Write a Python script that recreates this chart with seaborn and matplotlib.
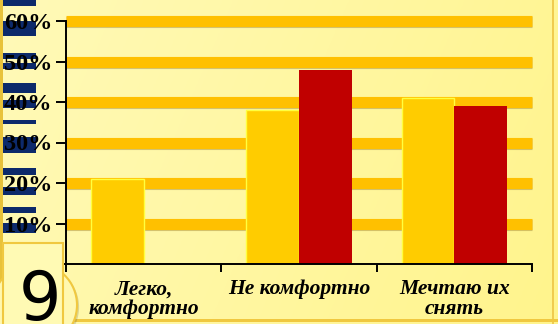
import numpy as np
import pandas as pd
import matplotlib
matplotlib.use("Agg")
import matplotlib.pyplot as plt
import matplotlib.patheffects as pe
from matplotlib.patches import Rectangle, Ellipse
import seaborn as sns

# Survey answers and the share of respondents per answer (two series)
categories = ["Легко,\nкомфортно", "Не комфортно", "Мечтаю их\nснять"]
series_names = ["Серия 1", "Серия 2"]
series_1 = [21, 38, 41]
series_2 = [0, 48, 39]
y_ticks = [0, 10, 20, 30, 40, 50, 60]
y_tick_labels = ["" if v == 0 else f"{v}%" for v in y_ticks]
slide_number = "9"

df = pd.DataFrame({
    "answer": categories * 2,
    "series": [series_names[0]] * 3 + [series_names[1]] * 3,
    "share": series_1 + series_2,
})

sns.set_theme(style="white")
plt.rcParams["font.family"] = ["Liberation Serif", "DejaVu Serif"]
plt.rcParams["text.color"] = "black"
plt.rcParams["xtick.color"] = "black"
plt.rcParams["ytick.color"] = "black"

W, H, DPI = 558, 324, 100
fig = plt.figure(figsize=(W / DPI, H / DPI), dpi=DPI)

# soft yellow slide background
bg = fig.add_axes([0, 0, 1, 1], zorder=-3)
gx = np.linspace(0, 1, 200)
gy = np.linspace(0, 1, 120)
GX, GY = np.meshgrid(gx, gy)
t = np.clip(0.8 * GX + 0.2 * GY, 0, 1)
c0 = np.array([255, 250, 184]) / 255
c1 = np.array([255, 244, 140]) / 255
img = c0[None, None, :] * (1 - t[..., None]) + c1[None, None, :] * t[..., None]
bg.imshow(img, extent=[0, 1, 0, 1], aspect="auto", origin="upper")
bg.set_axis_off()

def px_rect(x0, y0, x1, y1, **kw):
    """Rectangle given in pixel coordinates measured from the top-left."""
    r = Rectangle((x0 / W, 1 - y1 / H), (x1 - x0) / W, (y1 - y0) / H,
                  transform=fig.transFigure, **kw)
    fig.patches.append(r)
    return r

# navy stripes on the left edge of the slide
for y0, y1 in [(0, 6), (21, 36), (53, 59), (63, 69), (83, 93), (100, 108),
               (120, 124), (137, 153), (168, 175), (187, 195), (207, 213),
               (223, 233)]:
    px_rect(0, y0, 36, y1, facecolor="#0d2a6b", edgecolor="none", zorder=-2)
# gold frame lines
px_rect(0, 0, 3, H, facecolor="#e8c23a", edgecolor="none", zorder=-2)
px_rect(552, 0, 554, H, facecolor="#f0cc50", edgecolor="none", zorder=-2)
px_rect(60, 319, W, 322, facecolor="#f0c840", edgecolor="none", zorder=-2)

# chart
ax = fig.add_axes([66 / W, 60 / H, 466 / W, 243 / H])
ax.set_facecolor("none")
sns.barplot(data=df, x="answer", y="share", hue="series",
            palette=["#ffcc00", "#c00000"], width=0.68, dodge=True,
            saturation=1, legend=False, ax=ax, zorder=3)
for cont, ec, lw in zip(ax.containers, ["#ffff40", "none"], [1.0, 0]):
    for bar in cont:
        bar.set_edgecolor(ec)
        bar.set_linewidth(lw)

ax.set_ylim(0, 60)
ax.set_xlim(-0.5, 2.5)
ax.set_yticks(y_ticks)
ax.set_yticklabels(y_tick_labels, fontsize=17.5, fontweight="bold",
                   color="black")
ax.set_xticks(range(len(categories)))
ax.set_xticklabels(categories, fontsize=15.5, fontweight="bold",
                   style="italic", linespacing=1.0, color="black")
ax.set_xticks([-0.5, 0.5, 1.5, 2.5], minor=True)
ax.tick_params(axis="x", which="major", length=0, pad=11)
ax.tick_params(axis="x", which="minor", length=6, width=1.4, color="black",
               direction="out", bottom=True)
ax.tick_params(axis="y", length=7, width=1.4, color="black", direction="out",
               pad=3, left=True)
ax.set_xlabel("")
ax.set_ylabel("")
for side in ["top", "right"]:
    ax.spines[side].set_visible(False)
for side in ["left", "bottom"]:
    ax.spines[side].set_color("black")
    ax.spines[side].set_linewidth(1.4)
    ax.spines[side].set_zorder(4)

# broad orange grid bands with a thin shadow
ax.yaxis.grid(True, color="#ffc000", linewidth=8)
ax.set_axisbelow(True)
for line, v in zip(ax.get_ygridlines(), y_ticks):
    line.set_clip_on(False)
    line.set_zorder(1)
    line.set_solid_capstyle("butt")
    line.set_path_effects([
        pe.SimpleLineShadow(offset=(0, -1.0), shadow_color="#a89040", alpha=0.5),
        pe.Normal(),
    ])
    if v == 0:
        line.set_visible(False)

# slide number badge
circ = Ellipse((35 / W, 1 - 305 / H), 2 * 42 / W, 2 * 42 / H,
               transform=fig.transFigure, facecolor="#fff8b0",
               edgecolor="#f0c840", linewidth=1.5, zorder=1)
circ.set_path_effects([pe.SimplePatchShadow(offset=(1.5, -1.5), alpha=0.2),
                       pe.Normal()])
fig.patches.append(circ)
px_rect(3, 243, 63, 330, facecolor="#fffab4", edgecolor="#f0c840",
        linewidth=1.5, zorder=2)
fig.text(40 / W, 4 / H, slide_number, fontsize=48, family="DejaVu Sans",
         color="black", ha="center", va="baseline", zorder=3)

fig.savefig("out.png", dpi=DPI)
